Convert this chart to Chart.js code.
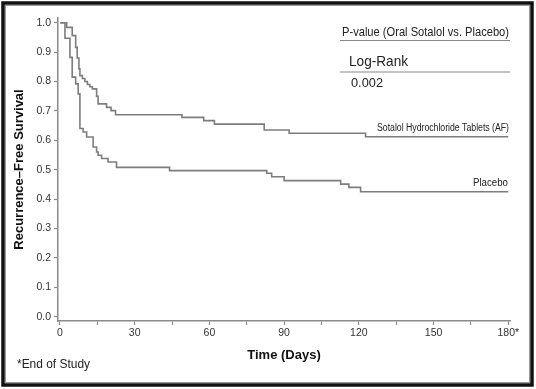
<!DOCTYPE html>
<html>
<head>
<meta charset="utf-8">
<script src="https://cdn.jsdelivr.net/npm/chart.js@4.4.1/dist/chart.umd.min.js"></script>
<style>
  html, body { margin: 0; padding: 0; background: #fff; }
</style>
</head>
<body>
<canvas id="kmChart" width="536" height="389"></canvas>
<script>
// Kaplan-Meier steps: day of drop, survival after the drop
const sotalolDays = [0, 2.7, 4.9, 6.3, 6.9, 7.6, 8, 9, 10, 11, 12, 13, 14.7, 15.3, 18.7, 20.5, 22.3, 49, 57.7, 62, 82, 92, 122.7, 180];
const sotalolSurv = [1.0, 0.984, 0.956, 0.916, 0.88, 0.843, 0.82, 0.81, 0.80, 0.79, 0.782, 0.775, 0.75, 0.724, 0.712, 0.701, 0.687, 0.678, 0.667, 0.655, 0.635, 0.624, 0.612, 0.612];

const placeboDays = [0, 2, 4, 4.9, 6.3, 7.3, 8, 9.3, 10.7, 13.3, 14.7, 15.3, 16.7, 19.3, 22.7, 44, 83, 85, 90, 112.7, 116, 120.7, 180];
const placeboSurv = [1.0, 0.947, 0.882, 0.815, 0.792, 0.758, 0.64, 0.628, 0.611, 0.577, 0.56, 0.549, 0.538, 0.526, 0.508, 0.497, 0.488, 0.476, 0.463, 0.451, 0.44, 0.425, 0.425];

const xTicks = [0, 15, 30, 45, 60, 75, 90, 105, 120, 135, 150, 165, 180];
const xLabels = {0: '0', 30: '30', 60: '60', 90: '90', 120: '120', 150: '150', 180: '180*'};
const yTicks = [0, 0.1, 0.2, 0.3, 0.4, 0.5, 0.6, 0.7, 0.8, 0.9, 1.0];

const seriesNames = ['Sotalol Hydrochloride Tablets (AF)', 'Placebo'];

function toPoints(days, surv) {
  return days.map((d, i) => ({ x: d, y: surv[i] }));
}

const lineGray = '#7d7d7d';
const axisGray = '#8a8a8a';
const tickFont = { family: "'Liberation Sans', Arial, sans-serif", size: 10.5 };

// border, p-value box, curve labels and footnote
const annotations = {
  id: 'annotations',
  beforeDraw(chart) {
    const ctx = chart.ctx;
    ctx.save();
    ctx.fillStyle = '#fff';
    ctx.fillRect(0, 0, chart.width, chart.height);
    ctx.restore();
  },
  afterDraw(chart) {
    const ctx = chart.ctx;
    ctx.save();
    // frame
    ctx.strokeStyle = '#111';
    ctx.lineWidth = 3.5;
    ctx.strokeRect(3, 3, 529, 382);
    ctx.strokeStyle = '#999';
    ctx.lineWidth = 1;
    ctx.strokeRect(5.5, 5.5, 524, 377);

    ctx.fillStyle = '#222';
    ctx.textBaseline = 'middle';
    ctx.textAlign = 'left';
    ctx.font = "13px 'Liberation Sans', Arial, sans-serif";
    ctx.fillText('P-value (Oral Sotalol vs. Placebo)', 342, 32, 167);
    ctx.font = "15px 'Liberation Sans', Arial, sans-serif";
    ctx.fillText('Log-Rank', 349, 62, 59);
    ctx.font = "13px 'Liberation Sans', Arial, sans-serif";
    ctx.fillText('0.002', 351, 83, 32);

    ctx.strokeStyle = '#888';
    ctx.lineWidth = 1.2;
    ctx.beginPath();
    ctx.moveTo(340, 40.5); ctx.lineTo(510, 40.5);
    ctx.moveTo(340, 72); ctx.lineTo(510, 72);
    ctx.stroke();

    ctx.textAlign = 'right';
    ctx.font = "10px 'Liberation Sans', Arial, sans-serif";
    ctx.fillText(seriesNames[0], 509, 128, 132);
    ctx.fillText(seriesNames[1], 508, 183.5, 35);

    ctx.textAlign = 'left';
    ctx.font = "12px 'Liberation Sans', Arial, sans-serif";
    ctx.fillText('*End of Study', 17, 365, 73);
    ctx.restore();
  }
};

const ctx = document.getElementById('kmChart').getContext('2d');
new Chart(ctx, {
  type: 'line',
  data: {
    datasets: [
      {
        label: seriesNames[0],
        data: toPoints(sotalolDays, sotalolSurv),
        borderColor: lineGray,
        borderWidth: 1.6,
        stepped: 'before',
        pointRadius: 0,
        fill: false
      },
      {
        label: seriesNames[1],
        data: toPoints(placeboDays, placeboSurv),
        borderColor: lineGray,
        borderWidth: 1.6,
        stepped: 'before',
        pointRadius: 0,
        fill: false
      }
    ]
  },
  options: {
    responsive: false,
    animation: false,
    devicePixelRatio: 1,
    layout: { padding: { left: 8, top: 18, right: 26, bottom: 0 } },
    plugins: {
      legend: { display: false },
      tooltip: { enabled: false }
    },
    scales: {
      x: {
        type: 'linear',
        min: -0.8,
        max: 180.7,
        afterBuildTicks: (scale) => { scale.ticks = xTicks.map(v => ({ value: v })); },
        afterFit: (scale) => { scale.height = 68; },
        grid: { drawOnChartArea: false, drawTicks: true, tickLength: 4, tickColor: axisGray, tickWidth: 1.2 },
        border: { display: true, color: axisGray, width: 1.5 },
        ticks: {
          autoSkip: false,
          maxRotation: 0,
          padding: 2,
          color: '#333',
          font: tickFont,
          callback: (v) => xLabels[v] !== undefined ? xLabels[v] : ''
        },
        title: {
          display: true,
          text: 'Time (Days)',
          color: '#111',
          font: { family: "'Liberation Sans', Arial, sans-serif", size: 13, weight: 'bold' },
          padding: { top: 0, bottom: 26 }
        }
      },
      y: {
        type: 'linear',
        min: -0.0146,
        max: 1.016,
        afterBuildTicks: (scale) => { scale.ticks = yTicks.map(v => ({ value: v })); },
        afterFit: (scale) => { scale.width = 50; },
        grid: { drawOnChartArea: false, drawTicks: true, tickLength: 4, tickColor: axisGray, tickWidth: 1.2 },
        border: { display: true, color: axisGray, width: 1.5 },
        ticks: {
          padding: 3,
          color: '#333',
          font: tickFont,
          callback: (v) => v.toFixed(1)
        },
        title: {
          display: true,
          text: 'Recurrence–Free Survival',
          color: '#111',
          font: { family: "'Liberation Sans', Arial, sans-serif", size: 13, weight: 'bold' },
          padding: { top: 4, bottom: 0 }
        }
      }
    }
  },
  plugins: [annotations]
});
</script>
</body>
</html>
